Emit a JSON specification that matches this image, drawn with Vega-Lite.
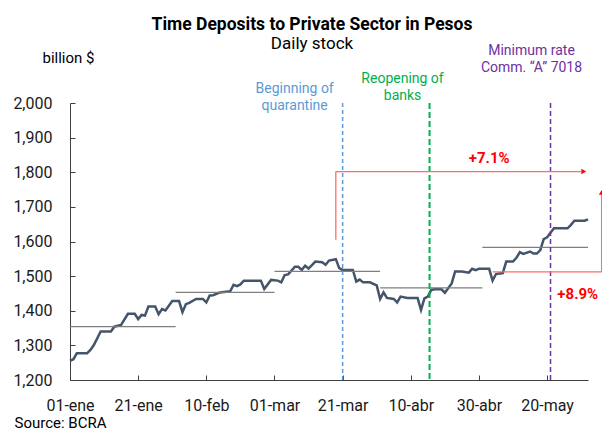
{
  "$schema": "https://vega.github.io/schema/vega-lite/v6.json",
  "width": 518,
  "height": 277,
  "autosize": {"type": "none"},
  "padding": {"left": 70, "top": 103, "right": 14, "bottom": 50},
  "config": {
    "font": "Roboto",
    "view": {"stroke": null},
    "axis": {
      "grid": false,
      "domainColor": "#404040",
      "tickColor": "#404040",
      "labelColor": "#1a1a1a",
      "labelFontSize": 16,
      "tickSize": -5,
      "labelPadding": 23,
      "titleColor": "#000000",
      "titleFontSize": 15,
      "titleFontWeight": "normal"
    }
  },
  "title": {
    "text": "Time Deposits to Private Sector in Pesos",
    "subtitle": "Daily stock",
    "frame": "group",
    "anchor": "middle",
    "dx": -17,
    "dy": 18,
    "fontSize": 17.5,
    "fontWeight": "bold",
    "color": "#000000",
    "subtitleFontSize": 17,
    "subtitleColor": "#000000",
    "subtitlePadding": 3,
    "offset": 10
  },
  "resolve": {"axis": {"x": "independent", "y": "independent"}},
  "datasets": {
    "stock": [
      {"date": "2020-01-01", "value": 1255}, {"date": "2020-01-02", "value": 1260},
      {"date": "2020-01-03", "value": 1277}, {"date": "2020-01-06", "value": 1277},
      {"date": "2020-01-07", "value": 1287}, {"date": "2020-01-08", "value": 1301},
      {"date": "2020-01-10", "value": 1340}, {"date": "2020-01-13", "value": 1340},
      {"date": "2020-01-14", "value": 1354}, {"date": "2020-01-16", "value": 1359},
      {"date": "2020-01-18", "value": 1391}, {"date": "2020-01-20", "value": 1391},
      {"date": "2020-01-21", "value": 1376}, {"date": "2020-01-22", "value": 1388},
      {"date": "2020-01-23", "value": 1386}, {"date": "2020-01-24", "value": 1412},
      {"date": "2020-01-26", "value": 1412}, {"date": "2020-01-27", "value": 1390},
      {"date": "2020-01-28", "value": 1405}, {"date": "2020-01-29", "value": 1401},
      {"date": "2020-01-31", "value": 1428}, {"date": "2020-02-02", "value": 1428},
      {"date": "2020-02-03", "value": 1396}, {"date": "2020-02-04", "value": 1419},
      {"date": "2020-02-05", "value": 1423}, {"date": "2020-02-07", "value": 1434},
      {"date": "2020-02-09", "value": 1434}, {"date": "2020-02-10", "value": 1424},
      {"date": "2020-02-11", "value": 1444}, {"date": "2020-02-12", "value": 1445},
      {"date": "2020-02-14", "value": 1453}, {"date": "2020-02-17", "value": 1456},
      {"date": "2020-02-18", "value": 1475}, {"date": "2020-02-19", "value": 1471},
      {"date": "2020-02-20", "value": 1476}, {"date": "2020-02-21", "value": 1487},
      {"date": "2020-02-26", "value": 1487}, {"date": "2020-02-27", "value": 1463},
      {"date": "2020-02-29", "value": 1489}, {"date": "2020-03-02", "value": 1487},
      {"date": "2020-03-03", "value": 1482}, {"date": "2020-03-04", "value": 1503},
      {"date": "2020-03-05", "value": 1505}, {"date": "2020-03-07", "value": 1527},
      {"date": "2020-03-08", "value": 1527}, {"date": "2020-03-09", "value": 1518},
      {"date": "2020-03-10", "value": 1530}, {"date": "2020-03-11", "value": 1522},
      {"date": "2020-03-13", "value": 1542}, {"date": "2020-03-15", "value": 1540},
      {"date": "2020-03-16", "value": 1533}, {"date": "2020-03-17", "value": 1545},
      {"date": "2020-03-19", "value": 1549}, {"date": "2020-03-20", "value": 1523},
      {"date": "2020-03-21", "value": 1518}, {"date": "2020-03-24", "value": 1518},
      {"date": "2020-03-25", "value": 1484}, {"date": "2020-03-26", "value": 1490},
      {"date": "2020-03-27", "value": 1482}, {"date": "2020-03-29", "value": 1482},
      {"date": "2020-03-31", "value": 1473}, {"date": "2020-04-01", "value": 1434},
      {"date": "2020-04-02", "value": 1453}, {"date": "2020-04-03", "value": 1437},
      {"date": "2020-04-05", "value": 1434}, {"date": "2020-04-06", "value": 1424},
      {"date": "2020-04-07", "value": 1441}, {"date": "2020-04-09", "value": 1437},
      {"date": "2020-04-12", "value": 1437}, {"date": "2020-04-13", "value": 1402},
      {"date": "2020-04-14", "value": 1436}, {"date": "2020-04-15", "value": 1441},
      {"date": "2020-04-16", "value": 1460}, {"date": "2020-04-17", "value": 1462},
      {"date": "2020-04-19", "value": 1462}, {"date": "2020-04-20", "value": 1452},
      {"date": "2020-04-22", "value": 1479}, {"date": "2020-04-23", "value": 1513},
      {"date": "2020-04-25", "value": 1513}, {"date": "2020-04-27", "value": 1510},
      {"date": "2020-04-28", "value": 1521}, {"date": "2020-04-29", "value": 1517},
      {"date": "2020-04-30", "value": 1521}, {"date": "2020-05-03", "value": 1521},
      {"date": "2020-05-04", "value": 1487}, {"date": "2020-05-05", "value": 1506},
      {"date": "2020-05-07", "value": 1509}, {"date": "2020-05-08", "value": 1542},
      {"date": "2020-05-10", "value": 1542}, {"date": "2020-05-11", "value": 1553},
      {"date": "2020-05-12", "value": 1569}, {"date": "2020-05-13", "value": 1564},
      {"date": "2020-05-15", "value": 1571}, {"date": "2020-05-16", "value": 1565},
      {"date": "2020-05-17", "value": 1565}, {"date": "2020-05-18", "value": 1575},
      {"date": "2020-05-19", "value": 1607}, {"date": "2020-05-20", "value": 1612},
      {"date": "2020-05-22", "value": 1638}, {"date": "2020-05-26", "value": 1638},
      {"date": "2020-05-27", "value": 1648}, {"date": "2020-05-28", "value": 1660},
      {"date": "2020-05-31", "value": 1660}, {"date": "2020-06-01", "value": 1664}
    ],
    "averages": [
      {"month": "ene", "start": "2020-01-01", "end": "2020-02-01", "avg": 1354},
      {"month": "feb", "start": "2020-02-01", "end": "2020-03-01", "avg": 1453},
      {"month": "mar", "start": "2020-03-01", "end": "2020-04-01", "avg": 1514},
      {"month": "abr", "start": "2020-04-01", "end": "2020-05-01", "avg": 1466},
      {"month": "may", "start": "2020-05-01", "end": "2020-06-01", "avg": 1583}
    ],
    "brackets": [
      {"seg": "7.1 up", "x": "2020-03-19", "x2": "2020-03-19", "y": 1605, "y2": 1802},
      {"seg": "7.1 across", "x": "2020-03-19", "x2": "2020-05-30", "y": 1802, "y2": 1802},
      {"seg": "8.9 across", "x": "2020-05-04", "x2": "2020-06-05", "y": 1512, "y2": 1512},
      {"seg": "8.9 up", "x": "2020-06-05", "x2": "2020-06-05", "y": 1512, "y2": 1735}
    ],
    "arrows": [
      {"shape": "triangle-right", "x": "2020-05-30T18:00:00Z", "y": 1802},
      {"shape": "triangle-up", "x": "2020-06-05", "y": 1742}
    ],
    "growth": [
      {"label": "+7.1%", "x": "2020-05-03", "y": 1840},
      {"label": "+8.9%", "x": "2020-05-29", "y": 1448}
    ]
  },
  "layer": [
    {
      "data": {"name": "stock"},
      "mark": {"type": "line", "color": "#44546a", "strokeWidth": 2.5},
      "encoding": {
        "x": {
          "field": "date", "type": "temporal",
          "scale": {"type": "utc", "domain": [{"year": 2020, "month": 1, "date": 1, "utc": true}, {"year": 2020, "month": 6, "date": 1, "utc": true}]},
          "axis": {
            "values": [
              {"year": 2020, "month": 1, "date": 1, "utc": true},
              {"year": 2020, "month": 1, "date": 21, "utc": true},
              {"year": 2020, "month": 2, "date": 10, "utc": true},
              {"year": 2020, "month": 3, "date": 1, "utc": true},
              {"year": 2020, "month": 3, "date": 21, "utc": true},
              {"year": 2020, "month": 4, "date": 10, "utc": true},
              {"year": 2020, "month": 4, "date": 30, "utc": true},
              {"year": 2020, "month": 5, "date": 20, "utc": true}
            ],
            "labelExpr": "utcFormat(datum.value, '%d') + '-' + ['ene','feb','mar','abr','may','jun','jul'][utcmonth(datum.value)]",
            "labelFlush": false,
            "labelBaseline": "top",
            "labelPadding": 22,
            "title": "Source: BCRA",
            "titleX": -56,
            "titleY": 42,
            "titleAlign": "left",
            "titleBaseline": "middle",
            "titleAnchor": null
          }
        },
        "y": {
          "field": "value", "type": "quantitative",
          "scale": {"domain": [1200, 2000], "zero": false, "nice": false},
          "axis": {
            "values": [1200, 1300, 1400, 1500, 1600, 1700, 1800, 1900, 2000],
            "format": ",.0f",
            "title": "billion $",
            "titleAngle": 0,
            "titleX": -2,
            "titleY": -46,
            "titleAlign": "center",
            "titleBaseline": "middle"
          }
        }
      }
    },
    {
      "data": {"name": "averages"},
      "mark": {"type": "rule", "color": "#7f7f7f", "strokeWidth": 1.3},
      "encoding": {
        "x": {"field": "start", "type": "temporal", "scale": {"type": "utc"}, "axis": null},
        "x2": {"field": "end"},
        "y": {"field": "avg", "type": "quantitative", "axis": null}
      }
    },
    {
      "data": {"values": [{"event": "Beginning of quarantine", "date": "2020-03-21", "label": ["Beginning of", "quarantine"]}]},
      "layer": [
        {
          "mark": {"type": "rule", "color": "#5b9bd5", "strokeWidth": 1.5, "strokeDash": [4, 3]},
          "encoding": {"x": {"field": "date", "type": "temporal", "scale": {"type": "utc"}, "axis": null}}
        },
        {
          "mark": {"type": "text", "color": "#5b9bd5", "fontSize": 14, "align": "center", "baseline": "top", "lineHeight": 17, "dx": -48, "dy": -21},
          "encoding": {
            "x": {"field": "date", "type": "temporal", "scale": {"type": "utc"}, "axis": null},
            "y": {"datum": 2000, "type": "quantitative", "axis": null},
            "text": {"field": "label"}
          }
        }
      ]
    },
    {
      "data": {"values": [{"event": "Reopening of banks", "date": "2020-04-15T12:00:00Z", "label": ["Reopening of", "banks"]}]},
      "layer": [
        {
          "mark": {"type": "rule", "color": "#00b050", "strokeWidth": 2, "strokeDash": [6, 3]},
          "encoding": {"x": {"field": "date", "type": "temporal", "scale": {"type": "utc"}, "axis": null}}
        },
        {
          "mark": {"type": "text", "color": "#00b050", "fontSize": 14, "align": "center", "baseline": "top", "lineHeight": 17, "dx": -27, "dy": -31},
          "encoding": {
            "x": {"field": "date", "type": "temporal", "scale": {"type": "utc"}, "axis": null},
            "y": {"datum": 2000, "type": "quantitative", "axis": null},
            "text": {"field": "label"}
          }
        }
      ]
    },
    {
      "data": {"values": [{"event": "Minimum rate Comm. A 7018", "date": "2020-05-21", "label": ["Minimum rate", "Comm. “A” 7018"]}]},
      "layer": [
        {
          "mark": {"type": "rule", "color": "#7030a0", "strokeWidth": 1.5, "strokeDash": [5, 3]},
          "encoding": {"x": {"field": "date", "type": "temporal", "scale": {"type": "utc"}, "axis": null}}
        },
        {
          "mark": {"type": "text", "color": "#7030a0", "fontSize": 14, "align": "center", "baseline": "top", "lineHeight": 17, "dx": -19, "dy": -59},
          "encoding": {
            "x": {"field": "date", "type": "temporal", "scale": {"type": "utc"}, "axis": null},
            "y": {"datum": 2000, "type": "quantitative", "axis": null},
            "text": {"field": "label"}
          }
        }
      ]
    },
    {
      "data": {"name": "brackets"},
      "mark": {"type": "rule", "color": "#ff6b6b", "strokeWidth": 1.3},
      "encoding": {
        "x": {"field": "x", "type": "temporal", "scale": {"type": "utc"}, "axis": null},
        "x2": {"field": "x2"},
        "y": {"field": "y", "type": "quantitative", "axis": null},
        "y2": {"field": "y2"}
      }
    },
    {
      "data": {"name": "arrows"},
      "mark": {"type": "point", "filled": true, "color": "#ff0000", "opacity": 1, "size": 30},
      "encoding": {
        "x": {"field": "x", "type": "temporal", "scale": {"type": "utc"}, "axis": null},
        "y": {"field": "y", "type": "quantitative", "axis": null},
        "shape": {"field": "shape", "type": "nominal", "scale": null, "legend": null}
      }
    },
    {
      "data": {"name": "growth"},
      "mark": {"type": "text", "color": "#ff0000", "fontSize": 15, "fontWeight": "bold", "align": "center", "baseline": "middle"},
      "encoding": {
        "x": {"field": "x", "type": "temporal", "scale": {"type": "utc"}, "axis": null},
        "y": {"field": "y", "type": "quantitative", "axis": null},
        "text": {"field": "label"}
      }
    }
  ]
}
